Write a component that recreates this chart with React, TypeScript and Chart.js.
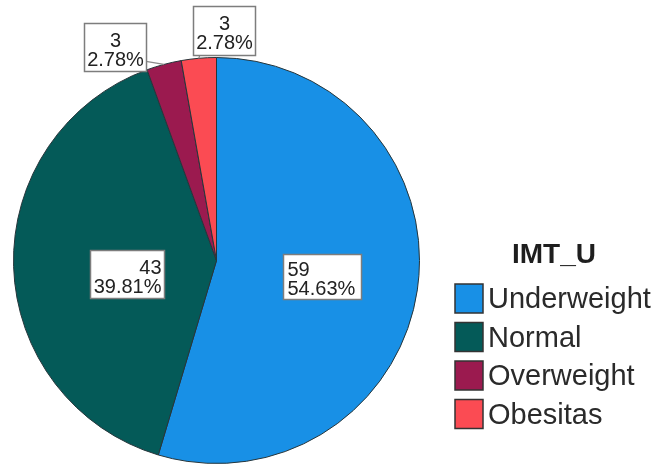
import React, { useEffect, useRef } from "react";
import { Chart, registerables } from "chart.js";

Chart.register(...registerables);

const legendTitle = "IMT_U";
const categories = ["Underweight", "Normal", "Overweight", "Obesitas"];
const counts = [59, 43, 3, 3];
const percentLabels = ["54.63%", "39.81%", "2.78%", "2.78%"];
const sliceColors = ["#1890e6", "#045a58", "#9b1a4f", "#fb4b53"];

// label placement styles (not data)
const labelPlacement = [
  { mode: "inside", frac: 0.33, align: "left", dy: 6, pad: 10, h: 45 },
  { mode: "inside", frac: 0.258, align: "right", dy: 12, pad: 6, h: 48 },
  { mode: "outside", align: "center", boxDx: -18, boxDy: 7, side: "left", pad: 5, h: 48 },
  { mode: "outside", align: "center", boxDx: -6, boxDy: -3, side: "right", pad: 5, h: 49 },
];

const FONT = '"Liberation Sans", Arial, sans-serif';

const labelPlugin = {
  id: "spssLabels",
  afterDatasetsDraw(chart: any) {
    const ctx = chart.ctx as CanvasRenderingContext2D;
    const meta = chart.getDatasetMeta(0);
    ctx.save();
    ctx.font = `20px ${FONT}`;
    meta.data.forEach((arc: any, i: number) => {
      const { x, y, startAngle, endAngle, outerRadius } = arc.getProps(
        ["x", "y", "startAngle", "endAngle", "outerRadius"],
        true
      );
      const mid = (startAngle + endAngle) / 2;
      const lines = [String(counts[i]), percentLabels[i]];
      const p: any = labelPlacement[i];
      const tw = Math.max(...lines.map((l) => ctx.measureText(l).width));
      const bw = Math.round(tw + p.pad);
      const bh = p.h;
      let bx = 0;
      let by = 0;
      if (p.mode === "inside") {
        const px = x + Math.cos(mid) * outerRadius * p.frac;
        const py = y + Math.sin(mid) * outerRadius * p.frac;
        bx = p.align === "left" ? px : px - bw;
        by = py - bh / 2 + p.dy;
      } else {
        const ex = x + Math.cos(mid) * outerRadius;
        const ey = y + Math.sin(mid) * outerRadius;
        if (p.side === "left") {
          bx = ex + p.boxDx - bw;
        } else {
          bx = ex + p.boxDx;
        }
        by = ey + p.boxDy - bh;
        ctx.strokeStyle = "#8a8a8a";
        ctx.lineWidth = 1.2;
        ctx.beginPath();
        if (p.side === "left") {
          ctx.moveTo(bx + bw, by + bh - 10);
        } else {
          ctx.moveTo(ex + 1, by + bh);
        }
        ctx.lineTo(ex, ey);
        ctx.stroke();
      }
      bx = Math.round(bx) + 0.5;
      by = Math.round(by) + 0.5;
      ctx.fillStyle = "#ffffff";
      ctx.fillRect(bx, by, bw, bh);
      ctx.strokeStyle = "#7d7d7d";
      ctx.lineWidth = 1.5;
      ctx.strokeRect(bx, by, bw, bh);
      ctx.fillStyle = "#222222";
      ctx.textBaseline = "alphabetic";
      const top = bh >= 48 ? 23 : 21;
      lines.forEach((l, k) => {
        const ly = by + top + k * 19;
        let lx = bx + 4;
        if (p.align === "right") {
          ctx.textAlign = "right";
          lx = bx + bw - 3;
        } else if (p.align === "center") {
          ctx.textAlign = "center";
          lx = bx + bw / 2;
        } else {
          ctx.textAlign = "left";
        }
        ctx.fillText(l, lx, ly);
      });
    });
    ctx.restore();
  },
};

const legendPlugin = {
  id: "spssLegend",
  afterDraw(chart: any) {
    const ctx = chart.ctx as CanvasRenderingContext2D;
    ctx.save();
    ctx.fillStyle = "#1e1e1e";
    ctx.font = `bold 28px ${FONT}`;
    ctx.textAlign = "center";
    ctx.textBaseline = "alphabetic";
    ctx.fillText(legendTitle, 554, 263);
    ctx.font = `29px ${FONT}`;
    ctx.textAlign = "left";
    ctx.textBaseline = "middle";
    categories.forEach((c, i) => {
      const top = 284 + i * 38.5;
      ctx.fillStyle = sliceColors[i];
      ctx.fillRect(455, top, 28, 29);
      ctx.strokeStyle = "#333333";
      ctx.lineWidth = 1.5;
      ctx.strokeRect(455, top, 28, 29);
      ctx.fillStyle = "#2a2a2a";
      ctx.fillText(c, 488, top + 16);
    });
    ctx.restore();
  },
};

export default function App() {
  const ref = useRef<HTMLCanvasElement | null>(null);
  useEffect(() => {
    document.body.style.margin = "0";
    const chart = new Chart(ref.current as HTMLCanvasElement, {
      type: "pie",
      data: {
        labels: categories,
        datasets: [
          {
            data: counts,
            backgroundColor: sliceColors,
            borderColor: "#26353a",
            borderWidth: 1,
          },
        ],
      },
      options: {
        animation: false,
        responsive: true,
        maintainAspectRatio: false,
        layout: { padding: { left: 13, right: 235, top: 57, bottom: 2 } },
        plugins: {
          legend: { display: false },
          tooltip: { enabled: false },
        },
      },
      plugins: [labelPlugin, legendPlugin],
    });
    return () => chart.destroy();
  }, []);
  return (
    <div style={{ position: "fixed", left: 0, top: 0, width: 655, height: 466, background: "#fff" }}>
      <canvas ref={ref} />
    </div>
  );
}
